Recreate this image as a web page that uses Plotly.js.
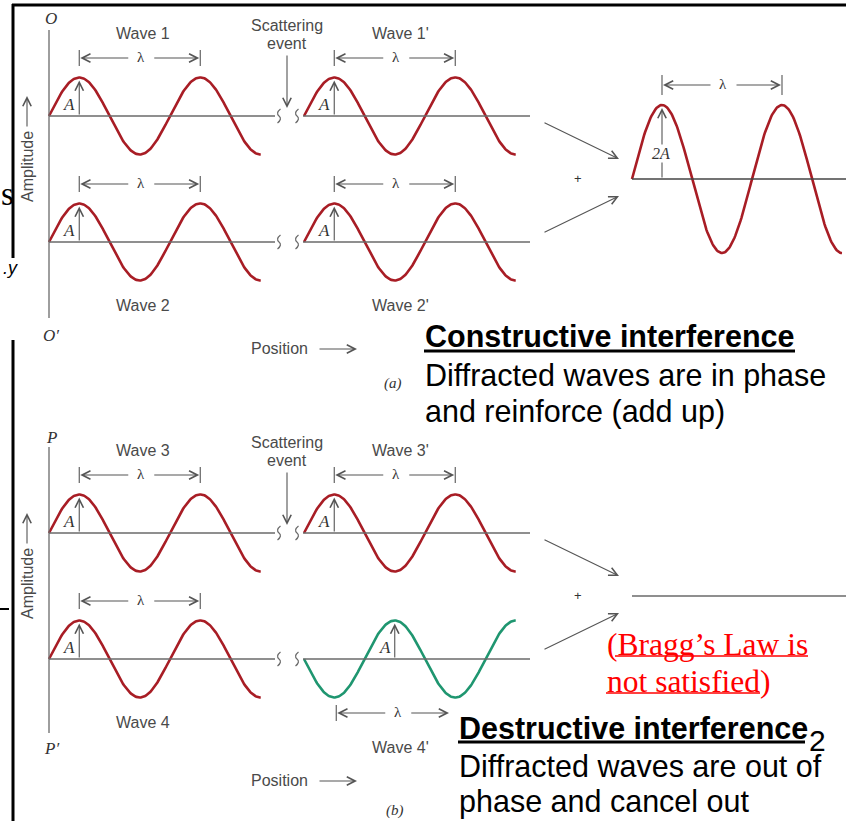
<!DOCTYPE html>
<html><head><meta charset="utf-8">
<script src="https://cdn.plot.ly/plotly-3.0.1.min.js"></script>
<style>html,body{margin:0;padding:0;background:#fff;overflow:hidden}#chart{width:846px;height:821px}</style>
</head><body><div id="chart"></div>
<script>
// ---------------- data ----------------
const waveNames     = ["Wave 1","Wave 1'","Wave 2","Wave 2'","Wave 3","Wave 3'","Wave 4","Wave 4'"];
const waveAmplitude = [1, 1, 1, 1, 1, 1, 1, 1];          // in units of A
const wavePhaseDeg  = [0, 0, 0, 0, 0, 0, 0, 180];        // phase at the start of each wave
const waveCycles    = [1.75, 1.75, 1.75, 1.75, 1.75, 1.75, 1.75, 1.75];
const amplitudeSymbol  = "A";
const wavelengthSymbol = "λ";
const axisEndLabels = [["O", "O′"], ["P", "P′"]];
const panelTags     = ["(a)", "(b)"];
const scatterLabel  = ["Scattering", "event"];
const axisTitles    = ["Amplitude", "Position"];
const resultHeads   = ["Constructive interference", "Destructive interference"];
const resultNotes   = [["Diffracted waves are in phase", "and reinforce (add up)"],
                       ["Diffracted waves are out of", "phase and cancel out"]];
const braggNote     = ["(Bragg’s Law is", "not satisfied)"];
const slideNumber   = "2";
const edgeFragments = ["s", ".y"];

// ---------------- geometry / style ----------------
const W = 846, H = 821;
const GEO = {
  dy: [0, 417],
  axisX: 49, axisTop: [30, 447], axisBot: [318, 733],
  endLabelY: [[18, 335], [437, 748]],
  rowBase: [116, 242], colX0: [49, 304], colLineEnd: [275, 530], colLineStart: [49, 303],
  breakX: [279, 297],
  ampPx: 38.5, lamPx: 121,
  waveLabelX: [143, 400], waveLabelY: [33, 305],
  lambdaSide: ['above','above','above','above','above','above','above','below'],
  labelYOverride: {7: 747},
  clipRight: {7: 449},
  sumX0: 632, sumBase: [179, 596], sumAmpPx: 37, sumLamPx: 120,
  positionY: [348, 780], tagXY: [[393, 383], [395, 810]],
};
const GRAY = '#6a6a6a', TXT = '#4a4a4a', ARW = '#555555';
const RED = '#a81d25', GREEN = '#1f9670';
const SANS = 'Liberation Sans, Arial, sans-serif';
const SERIF = 'Liberation Serif, Times New Roman, serif';

const traces = [], shapes = [], ann = [];
function line(x0, y0, x1, y1, color, width) {
  shapes.push({type: 'line', xref: 'x', yref: 'y', x0, y0, x1, y1, line: {color, width}});
}
function path(d, color, width) {
  shapes.push({type: 'path', xref: 'x', yref: 'y', path: d, line: {color, width}});
}
function arrow(x0, y0, x1, y1, color, size) {
  ann.push({xref: 'x', yref: 'y', axref: 'x', ayref: 'y', x: x1, y: y1, ax: x0, ay: y0,
    text: '', showarrow: true, arrowhead: 5, arrowsize: size || 1.5, arrowwidth: 1.1,
    arrowcolor: color || ARW, standoff: 0, startstandoff: 0});
}
function label(text, x, y, o) {
  o = o || {};
  ann.push(Object.assign({xref: 'x', yref: 'y', x, y, text, showarrow: false,
    xanchor: o.xanchor || 'center', yanchor: 'middle',
    font: {family: o.family || SANS, size: o.size || 16, color: o.color || TXT},
    textangle: o.angle || 0, borderpad: 0}, o.extra || {}));
}
function waveVal(i, cyc) {
  return waveAmplitude[i] * Math.sin(2 * Math.PI * cyc + wavePhaseDeg[i] * Math.PI / 180);
}
function frac(v) { return ((v % 1) + 1) % 1; }
function breakMark(x, y) {
  path(`M ${x + 1.5},${y - 7} Q ${x - 3.5},${y - 3} ${x},${y} Q ${x + 3.5},${y + 3} ${x - 1.5},${y + 7}`, GRAY, 1.2);
}
function lambdaDim(xa, xb, y, clip, tick) {
  tick = tick || 8;
  const xm = (xa + xb) / 2;
  line(xa, y - tick, xa, y + tick, ARW, 1.1);
  arrow(xm - 10, y, xa + 1, y);
  if (clip === undefined) {
    line(xb, y - tick, xb, y + tick, ARW, 1.1);
    arrow(xm + 13, y, xb - 1, y);
  } else {
    arrow(xm + 13, y, clip, y);
  }
  label(wavelengthSymbol, xm + 1, y - 1, {family: SERIF, size: 15, color: '#333'});
}

// ---------------- frame fragments from the slide ----------------
line(12, 5, W, 5, '#000', 3);
line(13, 4, 13, 258, '#000', 3);
line(13, 340, 13, H, '#000', 3);
line(0, 609, 9, 609, '#000', 2);
label(edgeFragments[0], 0, 194, {xanchor: 'left', family: SERIF, size: 33, color: '#000'});
label('<i>' + edgeFragments[1] + '</i>', 19, 268, {xanchor: 'right', size: 18, color: '#000'});

// ---------------- panels ----------------
for (let p = 0; p < 2; p++) {
  const dy = GEO.dy[p];
  // vertical amplitude axis
  line(GEO.axisX, GEO.axisTop[p], GEO.axisX, GEO.axisBot[p], GRAY, 1.3);
  label('<i>' + axisEndLabels[p][0] + '</i>', 51, GEO.endLabelY[p][0], {family: SERIF, size: 17, color: '#333'});
  label('<i>' + axisEndLabels[p][1] + '</i>', 51, GEO.endLabelY[p][1], {family: SERIF, size: 17, color: '#333'});
  label(axisTitles[0], 27, 167 + dy, {angle: -90});
  arrow(27, 128 + dy, 27, 96 + dy);

  for (let r = 0; r < 2; r++) {
    const base = GEO.rowBase[r] + dy;
    line(GEO.colLineStart[0], base, GEO.colLineEnd[0], base, GRAY, 1.3);
    line(GEO.colLineStart[1], base, GEO.colLineEnd[1], base, GRAY, 1.3);
    breakMark(GEO.breakX[0], base);
    breakMark(GEO.breakX[1], base);
    for (let c = 0; c < 2; c++) {
      const i = p * 4 + r * 2 + c;
      const x0 = GEO.colX0[c];
      const xs = [], ys = [];
      const N = 240;
      for (let k = 0; k <= N; k++) {
        const cyc = waveCycles[i] * k / N;
        xs.push(x0 + cyc * GEO.lamPx);
        ys.push(base - GEO.ampPx * waveVal(i, cyc));
      }
      traces.push({type: 'scatter', mode: 'lines', x: xs, y: ys, name: waveNames[i],
        hoverinfo: 'skip', line: {color: wavePhaseDeg[i] === 0 ? RED : GREEN, width: 2.6}});
      // amplitude arrow at the first crest
      const pk = x0 + frac(0.25 - wavePhaseDeg[i] / 360) * GEO.lamPx;
      arrow(pk, base, pk, base - GEO.ampPx * waveAmplitude[i] + 3);
      label('<i>' + amplitudeSymbol + '</i>', pk - 10, base - 12, {family: SERIF, size: 17, color: '#333'});
      // wavelength dimension
      if (GEO.lambdaSide[i] === 'above') {
        lambdaDim(pk, pk + GEO.lamPx, base - 58);
      } else {
        const tr = x0 + frac(0.75 - wavePhaseDeg[i] / 360) * GEO.lamPx;
        lambdaDim(tr + 2, tr + 2 + GEO.lamPx, base + 54, GEO.clipRight[i]);
      }
      const ly = GEO.labelYOverride[i] !== undefined ? GEO.labelYOverride[i] : GEO.waveLabelY[r] + dy;
      label(waveNames[i], GEO.waveLabelX[c], ly);
    }
  }
  // scattering event
  label(scatterLabel[0], 287, 25 + dy);
  label(scatterLabel[1], 287, 43 + dy);
  arrow(287, 54 + dy, 287, 108 + dy);

  // combining arrows
  arrow(543, 122 + dy, 619, 159 + dy);
  arrow(543, 233 + dy, 619, 196 + dy);
  label('+', 578, 178 + dy, {size: 13, color: '#333'});

  // resulting (summed) wave
  const sb = GEO.sumBase[p];
  line(GEO.sumX0, sb, W, sb, p === 0 ? '#444' : GRAY, 1.3);
  const pair = [p * 4 + 1, p * 4 + 3];
  const sx = [], sy = [];
  let maxAbs = 0;
  const N = 240;
  for (let k = 0; k <= N; k++) {
    const cyc = waveCycles[pair[0]] * k / N;
    const v = waveVal(pair[0], cyc) + waveVal(pair[1], cyc);
    maxAbs = Math.max(maxAbs, Math.abs(v));
    sx.push(GEO.sumX0 + cyc * GEO.sumLamPx);
    sy.push(sb - GEO.sumAmpPx * v);
  }
  if (maxAbs > 1e-6) {
    traces.push({type: 'scatter', mode: 'lines', x: sx, y: sy, name: 'sum', hoverinfo: 'skip',
      line: {color: RED, width: 2.6}});
    const pk = GEO.sumX0 + 0.25 * GEO.sumLamPx;
    const amp = Math.round(maxAbs);
    arrow(pk, sb, pk, sb - GEO.sumAmpPx * maxAbs + 3);
    label('<i>' + amp + amplitudeSymbol + '</i>', pk - 1, sb - 26, {family: SERIF, size: 16, color: '#333',
      extra: {bgcolor: '#ffffff'}});
    lambdaDim(pk, pk + GEO.sumLamPx, sb - 94, undefined, 10);
  }

  // position axis title
  label(axisTitles[1], 279, GEO.positionY[p]);
  arrow(318, GEO.positionY[p] + 1, 357, GEO.positionY[p] + 1);
  label('<i>' + panelTags[p] + '</i>', GEO.tagXY[p][0], GEO.tagXY[p][1], {family: SERIF, size: 15, color: '#333'});
}

// ---------------- slide text ----------------
label('<b>' + resultHeads[0] + '</b>', 424, 336, {xanchor: 'left', size: 30.5, color: '#000'});
line(424, 351, 795, 351, '#000', 3);
label(resultNotes[0][0], 424, 375, {xanchor: 'left', size: 30.5, color: '#000'});
label(resultNotes[0][1], 424, 411, {xanchor: 'left', size: 30.5, color: '#000'});

label('<b>' + resultHeads[1] + '</b>', 458, 728, {xanchor: 'left', size: 30.5, color: '#000'});
line(458, 742, 805, 742, '#000', 3);
label(slideNumber, 808, 740, {xanchor: 'left', size: 30, color: '#000'});
label(resultNotes[1][0], 458, 766, {xanchor: 'left', size: 30.5, color: '#000'});
label(resultNotes[1][1], 458, 801, {xanchor: 'left', size: 30.5, color: '#000'});

label(braggNote[0], 606, 644, {xanchor: 'left', family: SERIF, size: 31.5, color: '#ff0000'});
label(braggNote[1], 606, 681, {xanchor: 'left', family: SERIF, size: 31.5, color: '#ff0000'});
line(615, 656, 808, 656, '#ff0000', 1.5);
line(606, 693, 760, 693, '#ff0000', 1.5);

const layout = {
  width: W, height: H, margin: {l: 0, r: 0, t: 0, b: 0, pad: 0},
  paper_bgcolor: '#ffffff', plot_bgcolor: '#ffffff', showlegend: false,
  xaxis: {range: [0, W], visible: false, fixedrange: true},
  yaxis: {range: [H, 0], visible: false, fixedrange: true},
  shapes: shapes, annotations: ann
};
Plotly.newPlot('chart', traces, layout, {staticPlot: true, displayModeBar: false});
</script></body></html>
